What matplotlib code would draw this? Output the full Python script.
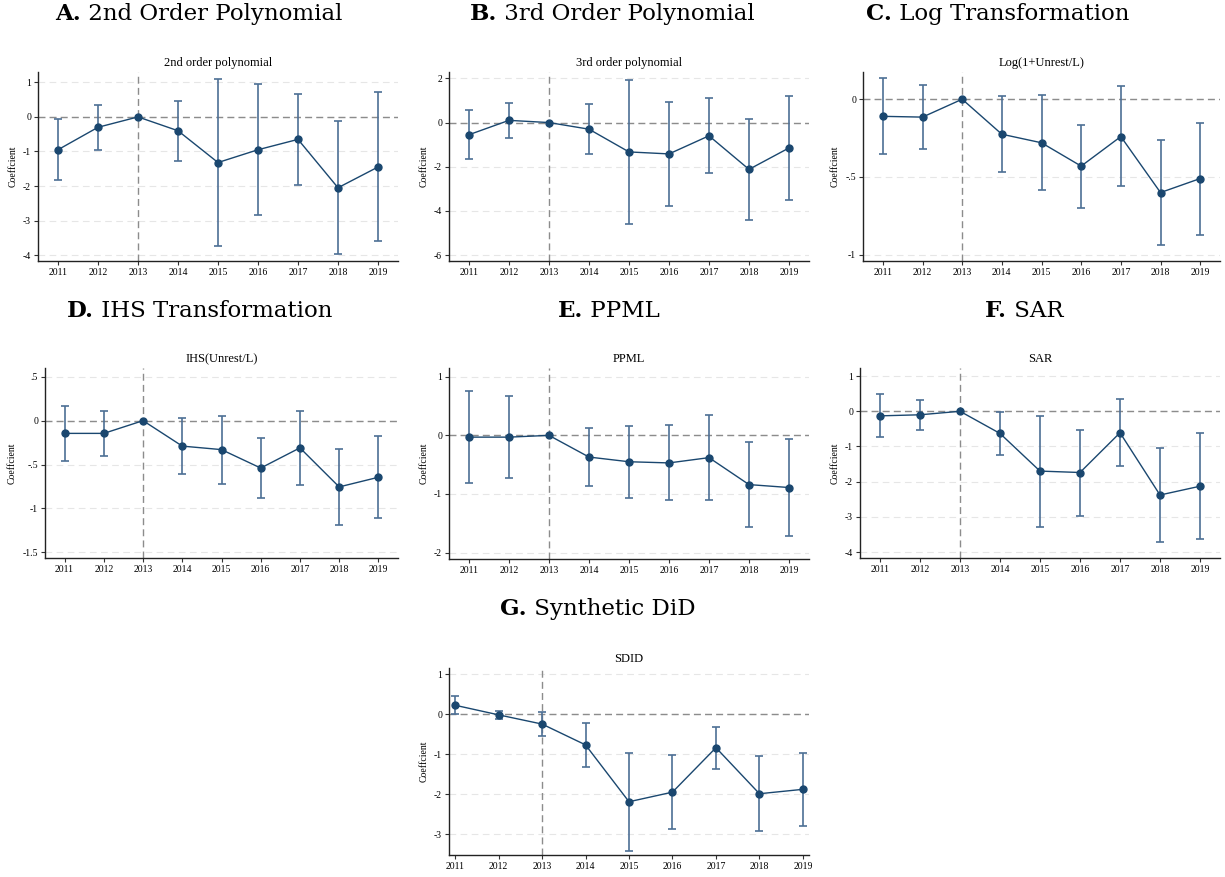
import numpy as np
import matplotlib
matplotlib.use('Agg')
import matplotlib.pyplot as plt
from matplotlib.ticker import FuncFormatter

plt.rcParams['font.family'] = ['Liberation Serif', 'DejaVu Serif']

years = [2011, 2012, 2013, 2014, 2015, 2016, 2017, 2018, 2019]
nan = np.nan

# A. 2nd order polynomial
coef_a = [-0.95, -0.30, 0.0, -0.40, -1.32, -0.95, -0.65, -2.05, -1.45]
lo_a = [-1.82, -0.96, nan, -1.27, -3.75, -2.85, -1.96, -3.98, -3.60]
hi_a = [-0.07, 0.35, nan, 0.45, 1.10, 0.95, 0.67, -0.12, 0.72]

# B. 3rd order polynomial
coef_b = [-0.55, 0.10, 0.0, -0.30, -1.33, -1.42, -0.60, -2.12, -1.15]
lo_b = [-1.63, -0.68, nan, -1.43, -4.60, -3.77, -2.30, -4.40, -3.50]
hi_b = [0.55, 0.90, nan, 0.83, 1.95, 0.93, 1.10, 0.18, 1.22]

# C. Log(1+Unrest/L)
coef_c = [-0.11, -0.115, 0.0, -0.225, -0.28, -0.43, -0.24, -0.60, -0.51]
lo_c = [-0.355, -0.32, nan, -0.465, -0.585, -0.70, -0.56, -0.94, -0.87]
hi_c = [0.135, 0.09, nan, 0.02, 0.025, -0.165, 0.085, -0.26, -0.15]

# D. IHS(Unrest/L)
coef_d = [-0.145, -0.145, 0.0, -0.29, -0.33, -0.54, -0.31, -0.755, -0.645]
lo_d = [-0.455, -0.40, nan, -0.61, -0.72, -0.885, -0.735, -1.19, -1.105]
hi_d = [0.17, 0.11, nan, 0.03, 0.055, -0.195, 0.11, -0.32, -0.18]

# E. PPML
coef_e = [-0.03, -0.03, 0.0, -0.37, -0.45, -0.47, -0.38, -0.84, -0.89]
lo_e = [-0.82, -0.72, nan, -0.86, -1.07, -1.10, -1.11, -1.57, -1.71]
hi_e = [0.76, 0.67, nan, 0.12, 0.16, 0.17, 0.35, -0.11, -0.07]

# F. SAR
coef_f = [-0.13, -0.10, 0.0, -0.63, -1.70, -1.74, -0.61, -2.38, -2.13]
lo_f = [-0.74, -0.53, nan, -1.24, -3.28, -2.97, -1.56, -3.72, -3.64]
hi_f = [0.48, 0.33, nan, -0.02, -0.12, -0.53, 0.34, -1.05, -0.62]

# G. SDID
coef_g = [0.22, -0.02, -0.25, -0.77, -2.19, -1.95, -0.84, -1.99, -1.88]
lo_g = [-0.01, -0.12, -0.56, -1.31, -3.41, -2.87, -1.36, -2.92, -2.79]
hi_g = [0.45, 0.07, 0.06, -0.22, -0.97, -1.02, -0.33, -1.06, -0.98]

W, H = 1225, 877
fig = plt.figure(figsize=(W / 100, H / 100), dpi=100)

navy = '#1a476f'
barcol = '#4d6f95'


def fmt(v, pos):
    s = '{:g}'.format(round(v, 6))
    s = s.replace('-0.', '-.')
    if s.startswith('0.'):
        s = s[1:]
    return s


def panel(box, sub, coef, lo, hi, ylim, yticks, xlim=(2010.5, 2019.5)):
    # box in pixels: left, top, right, bottom
    l, t, r, b = box
    ax = fig.add_axes([l / W, 1 - b / H, (r - l) / W, (b - t) / H])
    coef = np.array(coef)
    lo = np.array(lo)
    hi = np.array(hi)
    x = np.array(years)
    for y in yticks:
        ax.axhline(y, color='#e6e6e6', lw=0.8, ls=(0, (6, 4)), zorder=0)
    ax.axhline(0, color='#8c8c8c', lw=1.0, ls=(0, (5, 3)), zorder=1)
    ax.axvline(2013, color='#8c8c8c', lw=1.0, ls=(0, (5, 3)), zorder=1)
    m = np.isfinite(lo)
    ax.errorbar(x[m], coef[m], yerr=[coef[m] - lo[m], hi[m] - coef[m]],
                fmt='none', ecolor=barcol, elinewidth=1.2, capsize=3,
                capthick=1.2, zorder=2)
    ax.plot(x, coef, color=navy, lw=1.0, marker='o', ms=5, zorder=3)
    ax.set_xlim(*xlim)
    ax.set_ylim(*ylim)
    ax.set_xticks(years)
    ax.set_yticks(yticks)
    ax.yaxis.set_major_formatter(FuncFormatter(fmt))
    ax.tick_params(labelsize=7, length=3, width=0.8, color='#333333', pad=2)
    for s in ['top', 'right']:
        ax.spines[s].set_visible(False)
    for s in ['left', 'bottom']:
        ax.spines[s].set_linewidth(1.0)
        ax.spines[s].set_color('#222222')
    ax.set_ylabel('Coeffcient', fontsize=7, labelpad=4)
    ax.set_title(sub, fontsize=9, pad=4)
    return ax


panel((38, 72, 398, 261), '2nd order polynomial', coef_a, lo_a, hi_a,
      (-4.17, 1.3), [-4, -3, -2, -1, 0, 1])
panel((449, 72, 809, 261), '3rd order polynomial', coef_b, lo_b, hi_b,
      (-6.27, 2.29), [-6, -4, -2, 0, 2])
panel((863, 72, 1220, 261), 'Log(1+Unrest/L)', coef_c, lo_c, hi_c,
      (-1.04, 0.175), [-1, -0.5, 0])
panel((45, 368, 398, 558), 'IHS(Unrest/L)', coef_d, lo_d, hi_d,
      (-1.565, 0.6), [-1.5, -1, -0.5, 0, 0.5])
panel((449, 368, 809, 559), 'PPML', coef_e, lo_e, hi_e,
      (-2.11, 1.15), [-2, -1, 0, 1])
panel((860, 368, 1220, 558), 'SAR', coef_f, lo_f, hi_f,
      (-4.17, 1.23), [-4, -3, -2, -1, 0, 1])
panel((449, 668, 809, 855), 'SDID', coef_g, lo_g, hi_g,
      (-3.52, 1.15), [-3, -2, -1, 0, 1], xlim=(2010.86, 2019.14))

# panel headers: bold letter + regular text, centred as a pair (baseline y)
headers = [('A.', '2nd Order Polynomial', 199, 20),
           ('B.', '3rd Order Polynomial', 612, 20),
           ('C.', 'Log Transformation', 998, 20),
           ('D.', 'IHS Transformation', 200, 317),
           ('E.', 'PPML', 609, 317),
           ('F.', 'SAR', 1024, 317),
           ('G.', 'Synthetic DiD', 598, 615)]

renderer = fig.canvas.get_renderer()
for letter, text, cx, by in headers:
    t1 = fig.text(0, 1 - by / H, letter, fontsize=16.5, fontweight='bold',
                  va='baseline', ha='left', family='DejaVu Serif')
    t2 = fig.text(0, 1 - by / H, ' ' + text, fontsize=16.5, va='baseline',
                  ha='left', family='DejaVu Serif')
    w1 = t1.get_window_extent(renderer).width
    w2 = t2.get_window_extent(renderer).width
    x0 = cx - (w1 + w2) / 2
    t1.set_x(x0 / W)
    t2.set_x((x0 + w1) / W)

fig.savefig('out.png', dpi=100)
